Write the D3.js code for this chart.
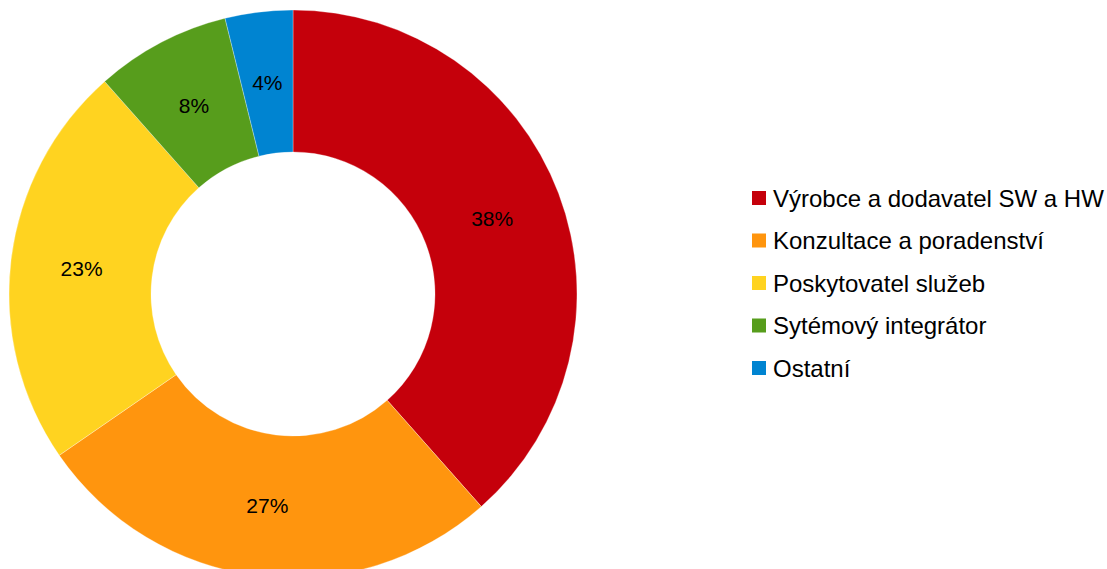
<!DOCTYPE html>
<html><head><meta charset="utf-8">
<script src="https://cdn.jsdelivr.net/npm/d3@7"></script>
<style>body{margin:0;background:#fff;} svg{display:block;font-family:"Liberation Sans",Arial,sans-serif;}</style>
</head><body>
<svg id="c" width="1107" height="569"></svg>
<script>
const categories = ["Výrobce a dodavatel SW a HW","Konzultace a poradenství","Poskytovatel služeb","Sytémový integrátor","Ostatní"];
const values = [10, 7, 6, 2, 1];
const colors = ["#C5000B","#FF950E","#FFD320","#579D1C","#0084D1"];

const svg = d3.select("#c");
const cx = 293, cy = 294, R = 284, r0 = 142;
const pie = d3.pie().sort(null).value(d => d.v);
const data = pie(categories.map((c,i)=>({c, v: values[i], col: colors[i]})));
const arc = d3.arc().innerRadius(r0).outerRadius(R);
const g = svg.append("g").attr("transform", `translate(${cx},${cy})`);
g.selectAll("path").data(data).join("path")
  .attr("d", arc).attr("fill", d => d.data.col)
  .attr("stroke", "rgba(255,255,255,0.5)").attr("stroke-width", 0.6);
const total = d3.sum(values);
g.selectAll("text").data(data).join("text")
  .attr("transform", d => `translate(${arc.centroid(d)})`)
  .attr("text-anchor","middle").attr("dy","0.36em")
  .attr("font-size", 21).attr("fill","#000")
  .text(d => Math.round(d.data.v / total * 100) + "%");

const leg = svg.append("g");
const y = d3.scalePoint().domain(categories).range([198, 368]);
const row = leg.selectAll("g").data(categories).join("g")
  .attr("transform", d => `translate(752,${y(d)})`);
row.append("rect").attr("x",0).attr("y",-7).attr("width",14).attr("height",14)
  .attr("fill", (d,i) => colors[i]);
row.append("text").attr("x", 21).attr("dy","0.36em").attr("font-size", 24).attr("fill","#000")
  .text(d => d);
</script>
</body></html>
